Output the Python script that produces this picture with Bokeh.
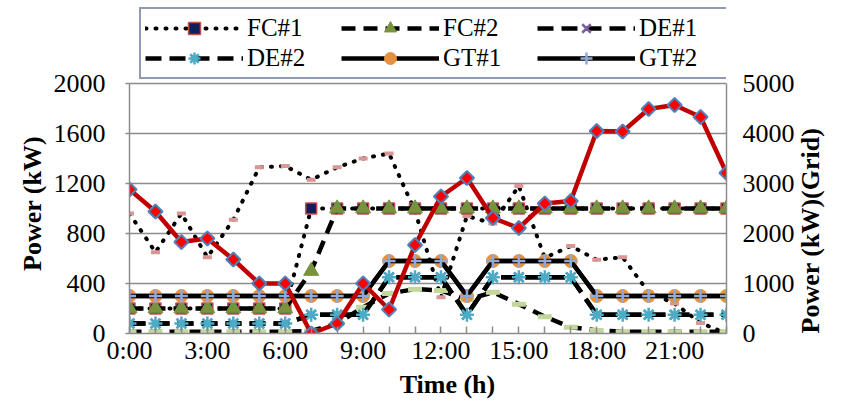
import numpy as np
from bokeh.plotting import figure
from bokeh.models import (Range1d, LinearAxis, FixedTicker, Legend, LegendItem)
from bokeh.embed import file_html
from bokeh.resources import INLINE

hours = list(range(24))
xtick_labels = {h: (f"{h}:00" if h % 3 == 0 else "") for h in hours}

fc1_kw = [200, 200, 200, 200, 200, 200, 200, 1000, 1000, 1000, 1000, 1000,
          1000, 1000, 1000, 1000, 1000, 1000, 1000, 1000, 1000, 1000, 1000, 1000]
fc2_kw = [200, 200, 200, 200, 200, 200, 200, 500, 1000, 1000, 1000, 1000,
          1000, 1000, 1000, 1000, 1000, 1000, 1000, 1000, 1000, 1000, 1000, 1000]
de1_kw = [80, 80, 80, 80, 80, 80, 80, 150, 150, 150, 450, 450,
          450, 150, 450, 450, 450, 450, 150, 150, 150, 150, 150, 150]
de2_kw = [80, 80, 80, 80, 80, 80, 80, 150, 150, 150, 450, 450,
          450, 150, 450, 450, 450, 450, 150, 150, 150, 150, 150, 150]
gt1_kw = [300, 300, 300, 300, 300, 300, 300, 300, 300, 300, 580, 580,
          580, 300, 580, 580, 580, 580, 300, 300, 300, 300, 300, 300]
gt2_kw = [300, 300, 300, 300, 300, 300, 300, 300, 300, 300, 580, 580,
          580, 300, 580, 580, 580, 580, 300, 300, 300, 300, 300, 300]
load_kw = [960, 650, 960, 610, 910, 1330, 1340, 1230, 1330, 1400, 1440, 980,
           290, 940, 880, 1180, 605, 700, 590, 610, 330, 240, 85, 0]
pv_kw = [15, 15, 15, 15, 15, 15, 15, 20, 80, 210, 320, 355,
         345, 270, 330, 235, 135, 50, 25, 15, 15, 15, 15, 15]
grid_kw = [2880, 2440, 1830, 1900, 1480, 1000, 1000, 0, 200, 1000, 480, 1770,
           2740, 3110, 2310, 2110, 2600, 2650, 4050, 4040, 4490, 4570, 4330, 3210]

left_ticks = [0, 400, 800, 1200, 1600, 2000]
right_ticks = [0, 1000, 2000, 3000, 4000, 5000]

x_title = "Time (h)"
y_title = "Power (kW)"
y2_title = "Power (kW)(Grid)"

FONT = "Liberation Serif"
GRAY = "#8C8C8C"

# the frame reaches the top of the canvas so the legend can sit above the plotted area;
# the axes are bounded to 0-2000 / 0-5000 so the visible plot area ends at the 2000 line
p = figure(width=844, height=401, output_backend="svg", toolbar_location=None,
           x_range=Range1d(0, 23), y_range=Range1d(0, 2664),
           min_border_left=127, min_border_right=118,
           min_border_top=0, min_border_bottom=68)
p.extra_y_ranges = {"grid": Range1d(0, 6660)}
p.background_fill_color = "white"
p.border_fill_color = "white"
p.outline_line_color = None

# axes
p.xaxis.ticker = FixedTicker(ticks=hours)
p.xaxis.major_label_overrides = xtick_labels
p.yaxis.ticker = FixedTicker(ticks=left_ticks)
p.yaxis.bounds = (0, 2000)

ax_r = LinearAxis(y_range_name="grid", ticker=FixedTicker(ticks=right_ticks), bounds=(0, 5000))
p.add_layout(ax_r, "right")

for ax in [p.xaxis[0], p.yaxis[0], ax_r]:
    ax.axis_line_color = GRAY
    ax.axis_line_width = 1.5
    ax.major_tick_line_color = GRAY
    ax.major_tick_line_width = 1.5
    ax.minor_tick_line_color = None
    ax.major_label_text_font = FONT
    ax.major_label_text_font_size = "26px"
    ax.major_label_text_color = "black"

p.xaxis.major_tick_in = 7
p.xaxis.major_tick_out = 0
p.xaxis.major_label_standoff = 2
p.yaxis.major_tick_in = 0
p.yaxis.major_tick_out = 4
p.yaxis.major_label_standoff = 20
ax_r.major_tick_in = 0
ax_r.major_tick_out = 0
ax_r.major_label_standoff = 16


def title_axis(ticks, text, **kw):
    return LinearAxis(ticker=FixedTicker(ticks=[ticks]),
                      major_label_overrides={ticks: text},
                      axis_line_color=None, major_tick_line_color=None,
                      minor_tick_line_color=None,
                      major_label_text_font=FONT, major_label_text_font_size="26px",
                      major_label_text_font_style="bold", major_label_text_color="black",
                      **kw)


# title axes (single tick whose label is the title, so it can sit where the original has it)
ax_l_title = title_axis(1580, y_title, major_label_orientation=np.pi / 2, major_label_standoff=12)
p.add_layout(ax_l_title, "left")
ax_r_title = title_axis(0, y2_title, y_range_name="grid",
                        major_label_orientation=np.pi / 2, major_label_standoff=7)
p.add_layout(ax_r_title, "right")
ax_x_title = title_axis(12.25, x_title, major_label_standoff=-4)
p.add_layout(ax_x_title, "below")

p.xgrid.grid_line_color = None
p.ygrid.grid_line_color = GRAY
p.ygrid.grid_line_width = 1.5

# series (drawn in order)
l_load = p.line(hours, load_kw, line_color="black", line_width=4, line_dash="1 9", line_cap="round")
m_load = p.scatter(hours, load_kw, marker="dash", size=9, line_color="#D99694", line_width=4)

l_pv = p.line(hours, pv_kw, line_color="black", line_width=4.5, line_dash="12 8")
m_pv = p.scatter(hours, pv_kw, marker="dash", size=14, line_color="#C3D69B", line_width=5)

l_fc1 = p.line(hours, fc1_kw, line_color="black", line_width=4, line_dash="1 9", line_cap="round")
m_fc1 = p.scatter(hours, fc1_kw, marker="square", size=11, fill_color="#0F1F5C",
                  line_color="#C0504D", line_width=1.5)

l_fc2 = p.line(hours, fc2_kw, line_color="black", line_width=4.5, line_dash="14 8")
m_fc2 = p.scatter(hours, fc2_kw, marker="triangle", size=15, fill_color="#77933C",
                  line_color="#77933C", line_width=1)

l_de1 = p.line(hours, de1_kw, line_color="black", line_width=4.5, line_dash="16 8")
m_de1 = p.scatter(hours, de1_kw, marker="x", size=13, line_color="#7F5FA0", line_width=2.5)

l_de2 = p.line(hours, de2_kw, line_color="black", line_width=4.5, line_dash="16 8")
m_de2 = p.scatter(hours, de2_kw, marker="asterisk", size=14, line_color="#4BACC6", line_width=2.5)

l_gt1 = p.line(hours, gt1_kw, line_color="black", line_width=4.5)
m_gt1 = p.scatter(hours, gt1_kw, marker="circle", size=13, fill_color="#E69140",
                  line_color="#E69140", line_width=1)

l_gt2 = p.line(hours, gt2_kw, line_color="black", line_width=4.5)
m_gt2 = p.scatter(hours, gt2_kw, marker="cross", size=13, line_color="#8EA9DB", line_width=2.5)

l_grid = p.line(hours, grid_kw, y_range_name="grid", line_color="#C00000", line_width=4.5)
m_grid = p.scatter(hours, grid_kw, y_range_name="grid", marker="square", angle=np.pi / 4, size=10,
                   fill_color="#FF0000", line_color="#4F81BD", line_width=2)

# column-major filling: col1 FC#1/DE#2, col2 FC#2/GT#1, col3 DE#1/GT#2
items = [
    LegendItem(label="FC#1", renderers=[l_fc1, m_fc1]),
    LegendItem(label="DE#2", renderers=[l_de2, m_de2]),
    LegendItem(label="FC#2", renderers=[l_fc2, m_fc2]),
    LegendItem(label="GT#1", renderers=[l_gt1, m_gt1]),
    LegendItem(label="DE#1", renderers=[l_de1, m_de1]),
    LegendItem(label="GT#2", renderers=[l_gt2, m_gt2]),
]
legend = Legend(items=items, ncols=3,
                location=(10, 254), margin=0, padding=4, spacing=0,
                glyph_width=98, glyph_height=30, label_standoff=4, label_width=94,
                label_text_font=FONT, label_text_font_size="25px",
                label_text_color="black", label_height=30,
                border_line_color="#1F3864", border_line_width=2.5,
                background_fill_color="white", background_fill_alpha=1.0)
p.add_layout(legend, "center")

open("out.html", "w").write(file_html(p, INLINE))
